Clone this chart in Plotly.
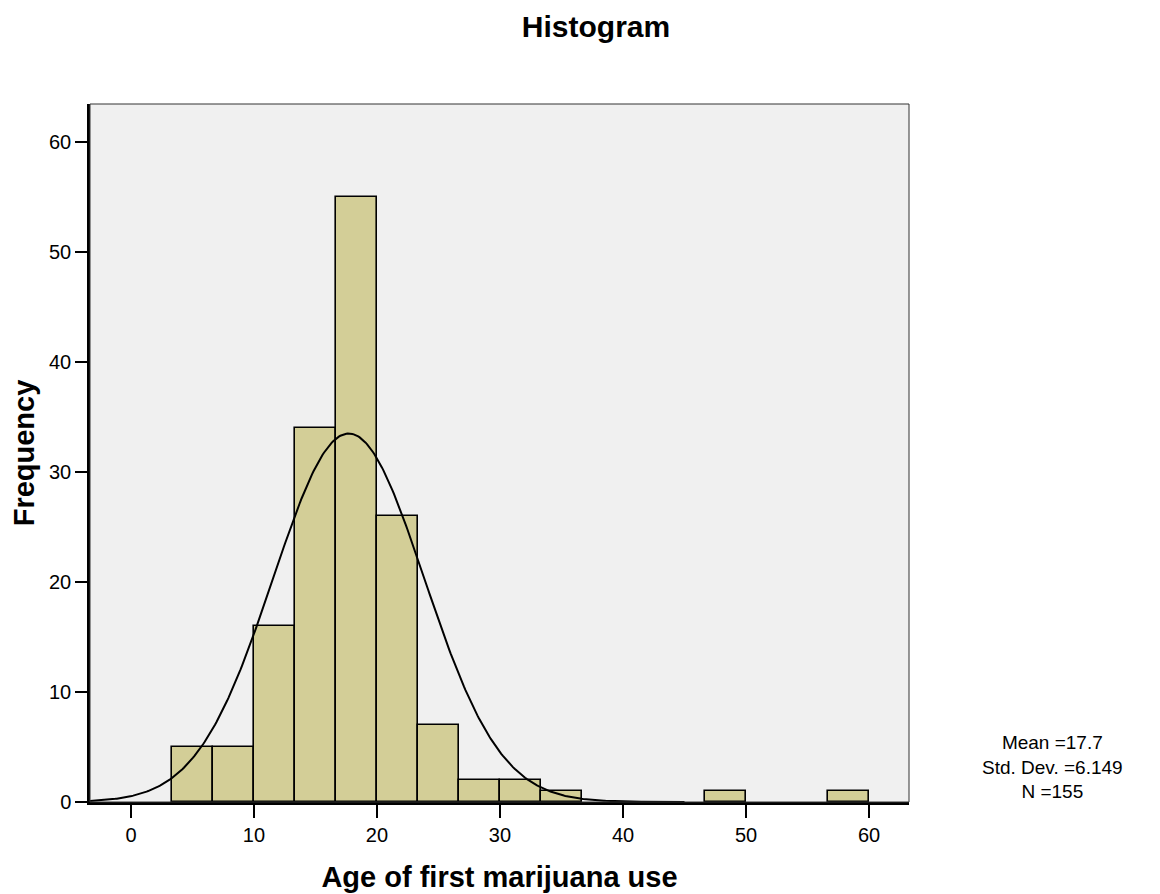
import numpy as np
import plotly.graph_objects as go

# Data
bin_width = 10 / 3
bin_starts = [10/3 * k for k in range(1, 18)]
counts = [5, 5, 16, 34, 55, 26, 7, 2, 2, 1, 0, 0, 0, 1, 0, 0, 1]
mean_val = 17.7
std_val = 6.149
n_val = 155
x_ticks = [0, 10, 20, 30, 40, 50, 60]
y_ticks = [0, 10, 20, 30, 40, 50, 60]

xs = [s for s, c in zip(bin_starts, counts) if c > 0]
cs = [c for c in counts if c > 0]
centers = [s + bin_width / 2 for s in xs]

x_lo, x_hi = -3.33, 63.25
xc = np.linspace(x_lo, 45, 400)
yc = n_val * bin_width / (std_val * np.sqrt(2 * np.pi)) * np.exp(-0.5 * ((xc - mean_val) / std_val) ** 2)

fig = go.Figure()
fig.add_trace(go.Bar(x=centers, y=cs, width=bin_width,
                     marker=dict(color="#d3ce97", line=dict(color="black", width=1.6)),
                     hoverinfo="x+y"))
fig.add_trace(go.Scatter(x=xc, y=yc, mode="lines", line=dict(color="black", width=2)))

W, H = 1160, 894
L, T, R, B = 82, 96, 259, 100
font_family = "Liberation Sans, Arial, sans-serif"
fig.update_layout(
    width=W, height=H,
    margin=dict(l=L, r=R, t=T, b=B),
    paper_bgcolor="white", plot_bgcolor="#f0f0f0",
    showlegend=False,
    font=dict(family=font_family, size=19, color="black"),
    title=dict(text="<b>Histogram</b>", x=588/W, xanchor="center", y=1 - 18/H, yanchor="middle",
               font=dict(size=30)),
    bargap=0,
)
fig.update_xaxes(range=[x_lo, x_hi], tickvals=x_ticks, ticks="outside", ticklen=13, tickwidth=2,
                 tickcolor="black", showline=True, linewidth=2.5, linecolor="black",
                 showgrid=False, zeroline=False, tickfont=dict(size=20),
                 title=dict(text="<b>Age of first marijuana use</b>", font=dict(size=29), standoff=22))
fig.update_yaxes(range=[0, 63.5], tickvals=y_ticks, ticks="outside", ticklen=12, tickwidth=2,
                 tickcolor="black", showline=True, linewidth=2.5, linecolor="black",
                 showgrid=False, zeroline=False, tickfont=dict(size=20),
                 title=dict(text="<b>Frequency</b>", font=dict(size=29), standoff=8))
fig.add_shape(type="rect", xref="x domain", yref="y domain", x0=0, x1=1, y0=0, y1=1,
              line=dict(color="#333333", width=1), layer="above")
pw = W - L - R
ph = H - T - B
fig.add_annotation(xref="paper", yref="paper", x=(1044 - L) / pw, y=(H - B - 759) / ph,
                   text=f"Mean ={mean_val}<br>Std. Dev. ={std_val}<br>N ={n_val}",
                   showarrow=False, xanchor="center", yanchor="middle", align="center",
                   font=dict(size=19))
fig.write_html("out.html")
